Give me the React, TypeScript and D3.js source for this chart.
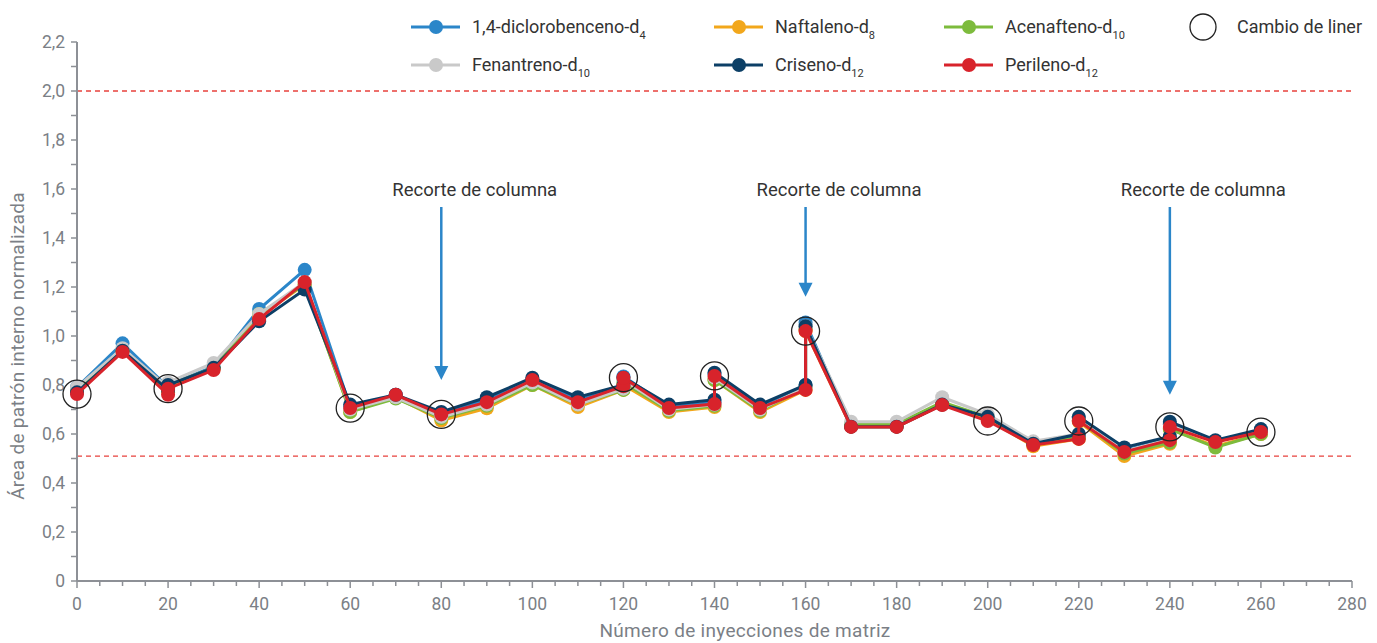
import React from "react";
import * as d3 from "d3";

// injection number; a repeated x is a liner change (value before, value after)
const injections = [0, 10, 20, 20, 30, 40, 50, 60, 70, 80, 90, 100, 110, 120, 120, 130, 140, 140, 150, 160, 160, 170, 180, 190, 200, 210, 220, 220, 230, 240, 240, 250, 260];

const diclorobenceno = [0.79, 0.97, 0.79, 0.8, 0.875, 1.11, 1.27, 0.71, 0.76, 0.68, 0.74, 0.825, 0.74, 0.79, 0.835, 0.71, 0.73, 0.845, 0.71, 0.8, 1.055, 0.63, 0.63, 0.72, 0.66, 0.56, 0.59, 0.665, 0.535, 0.58, 0.64, 0.57, 0.61];
const naftaleno = [0.77, 0.94, 0.77, 0.79, 0.865, 1.08, 1.21, 0.69, 0.75, 0.655, 0.705, 0.8, 0.71, 0.78, 0.8, 0.69, 0.71, 0.82, 0.69, 0.78, 1.02, 0.63, 0.63, 0.72, 0.66, 0.55, 0.58, 0.65, 0.51, 0.56, 0.62, 0.55, 0.6];
const acenafteno = [0.78, 0.94, 0.78, 0.8, 0.87, 1.09, 1.21, 0.69, 0.745, 0.665, 0.715, 0.8, 0.72, 0.78, 0.81, 0.695, 0.715, 0.82, 0.695, 0.79, 1.03, 0.64, 0.64, 0.73, 0.67, 0.56, 0.585, 0.655, 0.52, 0.565, 0.62, 0.545, 0.6];
const fenantreno = [0.79, 0.95, 0.79, 0.81, 0.89, 1.09, 1.22, 0.7, 0.75, 0.67, 0.72, 0.81, 0.72, 0.785, 0.82, 0.7, 0.72, 0.83, 0.7, 0.79, 1.04, 0.65, 0.65, 0.75, 0.68, 0.57, 0.6, 0.67, 0.53, 0.58, 0.64, 0.57, 0.61];
const criseno = [0.77, 0.94, 0.78, 0.8, 0.87, 1.06, 1.19, 0.72, 0.76, 0.69, 0.75, 0.83, 0.75, 0.8, 0.83, 0.72, 0.74, 0.85, 0.72, 0.8, 1.04, 0.63, 0.63, 0.72, 0.67, 0.56, 0.6, 0.67, 0.545, 0.59, 0.65, 0.575, 0.62];
const perileno = [0.763, 0.935, 0.76, 0.785, 0.861, 1.069, 1.22, 0.706, 0.76, 0.68, 0.73, 0.82, 0.73, 0.795, 0.83, 0.706, 0.722, 0.837, 0.706, 0.78, 1.02, 0.629, 0.629, 0.718, 0.653, 0.555, 0.58, 0.653, 0.527, 0.575, 0.629, 0.567, 0.608];

const linerX = [0, 20, 60, 80, 120, 140, 160, 200, 220, 240, 260];
const linerY = [0.763, 0.785, 0.706, 0.68, 0.83, 0.837, 1.02, 0.653, 0.653, 0.629, 0.608];

const cutX = [80, 160, 240];
const cutTip = [0.82, 1.16, 0.76];

const limits = [2.0, 0.51];

const xTicks = d3.range(0, 281, 20);
const yTicks = d3.range(0, 2.21, 0.2);

const series = [
  { name: "1,4-diclorobenceno-d", sub: "4", color: "#2b86c9", values: diclorobenceno },
  { name: "Naftaleno-d", sub: "8", color: "#f2a71b", values: naftaleno },
  { name: "Acenafteno-d", sub: "10", color: "#7dbb3c", values: acenafteno },
  { name: "Fenantreno-d", sub: "10", color: "#c9c9c9", values: fenantreno },
  { name: "Criseno-d", sub: "12", color: "#0c3f66", values: criseno },
  { name: "Perileno-d", sub: "12", color: "#d8232b", values: perileno },
];

const legendPos = [
  [411, 27], [714, 27], [944, 27],
  [411, 65], [714, 65], [944, 65],
];

const font = "Roboto, 'Noto Sans', sans-serif";
const grey = "#7b7f86";
const axisCol = "#8d9096";

export default function App() {
  const x = d3.scaleLinear().domain([0, 280]).range([77, 1352]);
  const y = d3.scaleLinear().domain([0, 2.2]).range([581, 42]);
  const line = d3.line<number>()
    .x((d, i) => x(injections[i]))
    .y((d) => y(d));

  return (
    <svg width={1377} height={643} style={{ position: "fixed", left: 0, top: 0 }} fontFamily={font}>
      <rect width={1377} height={643} fill="#fff" />

      {/* limit lines */}
      {limits.map((v) => (
        <line key={v} x1={x(0)} x2={1355} y1={y(v)} y2={y(v)} stroke="#e8413c" strokeWidth={1.3} strokeDasharray="5,4" />
      ))}

      {/* axes */}
      <line x1={x(0)} x2={x(0)} y1={y(2.2)} y2={y(0)} stroke={axisCol} strokeWidth={2} />
      <line x1={x(0)} x2={x(280)} y1={y(0)} y2={y(0)} stroke={axisCol} strokeWidth={2} />
      {d3.range(0, 2.21, 0.1).map((v, i) => (
        <line key={"yt" + i} x1={x(0) - 6} x2={x(0)} y1={y(v)} y2={y(v)} stroke={axisCol} strokeWidth={1.5} />
      ))}
      {d3.range(0, 281, 5).map((v) => (
        <line key={"xt" + v} x1={x(v)} x2={x(v)} y1={y(0)} y2={y(0) + (v % 20 === 0 ? 7 : 5)} stroke={axisCol} strokeWidth={1.5} />
      ))}
      {yTicks.map((v, i) => (
        <text key={"yl" + i} x={x(0) - 12} y={y(v)} dy="0.35em" textAnchor="end" fontSize={17.5} fill={grey}>
          {i === 0 ? "0" : d3.format(".1f")(v).replace(".", ",")}
        </text>
      ))}
      {xTicks.map((v) => (
        <text key={"xl" + v} x={x(v)} y={y(0) + 29} textAnchor="middle" fontSize={17.5} fill={grey}>{v}</text>
      ))}
      <text x={745} y={637} textAnchor="middle" fontSize={19} letterSpacing={0.3} fill={grey}>Número de inyecciones de matriz</text>
      <text transform="translate(24,346) rotate(-90)" textAnchor="middle" fontSize={19} letterSpacing={0.3} fill={grey}>Área de patrón interno normalizada</text>

      {/* series */}
      {series.map((s) => (
        <g key={s.name + s.sub}>
          <path d={line(s.values) || ""} fill="none" stroke={s.color} strokeWidth={3} />
          {s.values.map((v, i) => (
            <circle key={i} cx={x(injections[i])} cy={y(v)} r={7} fill={s.color} />
          ))}
        </g>
      ))}

      {/* liner changes */}
      {linerX.map((v, i) => (
        <circle key={"lc" + i} cx={x(v)} cy={y(linerY[i])} r={14} fill="none" stroke="#222" strokeWidth={1.3} />
      ))}

      {/* column cuts */}
      {cutX.map((v, i) => (
        <g key={"cut" + v}>
          <text x={x(v) - 49} y={196} fontSize={18.5} fill="#333">Recorte de columna</text>
          <line x1={x(v)} x2={x(v)} y1={207} y2={y(cutTip[i]) - 12} stroke="#2b86c9" strokeWidth={2.5} />
          <path d={`M${x(v) - 7},${y(cutTip[i]) - 14}L${x(v) + 7},${y(cutTip[i]) - 14}L${x(v)},${y(cutTip[i])}Z`} fill="#2b86c9" />
        </g>
      ))}

      {/* legend */}
      {series.map((s, i) => {
        const [lx, ly] = legendPos[i];
        return (
          <g key={"lg" + i}>
            <line x1={lx} x2={lx + 49} y1={ly} y2={ly} stroke={s.color} strokeWidth={3} />
            <circle cx={lx + 25} cy={ly} r={7} fill={s.color} />
            <text x={lx + 61} y={ly} dy="0.35em" fontSize={18} fill="#333">
              {s.name}
              <tspan fontSize={11} dy={6}>{s.sub}</tspan>
            </text>
          </g>
        );
      })}
      <circle cx={1203} cy={27} r={13} fill="none" stroke="#222" strokeWidth={1.3} />
      <text x={1237} y={27} dy="0.35em" fontSize={18} fill="#333">Cambio de liner</text>
    </svg>
  );
}
